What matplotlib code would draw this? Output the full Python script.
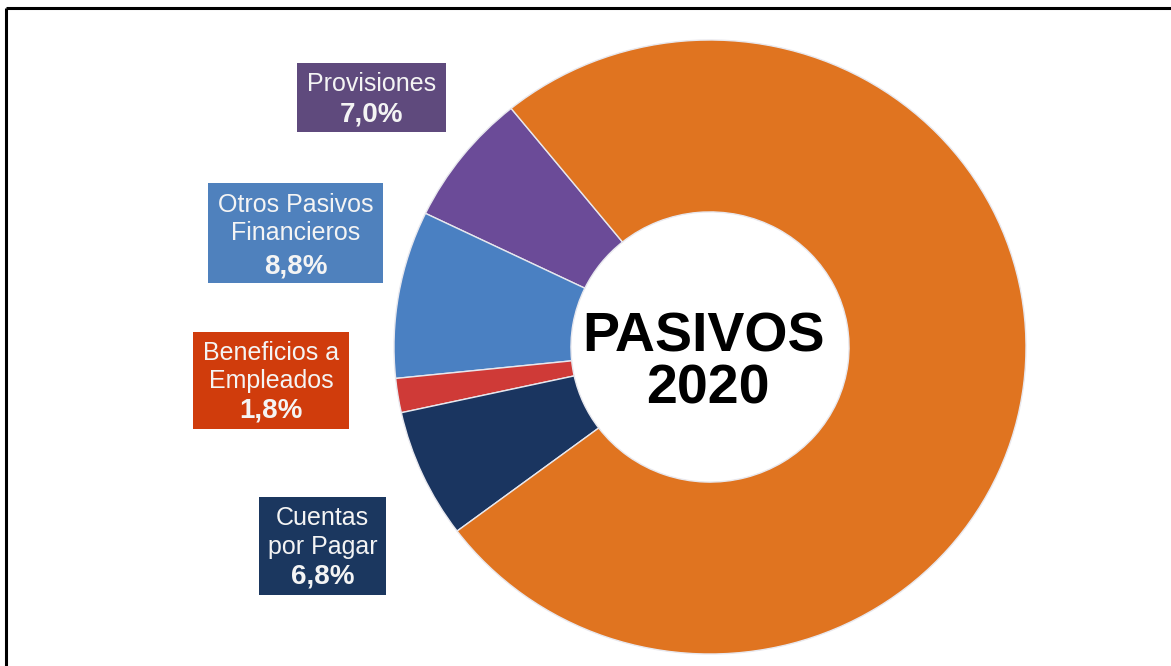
import matplotlib.pyplot as plt
from matplotlib.patches import Rectangle

plt.rcParams['font.family'] = ['Liberation Sans', 'DejaVu Sans']

# datos del gráfico
categorias = ['Provisiones', 'Otros Pasivos\nFinancieros', 'Beneficios a\nEmpleados',
              'Cuentas\npor Pagar', 'Fondos de Ley\nDestinación\nEspecífica']
valores = [7.0, 8.8, 1.8, 6.8, 75.6]
colores = ['#6B4B98', '#4A80C2', '#CF3A37', '#1A3560', '#E07420']
colores_caja = ['#5F4A7D', '#4F81BD', '#D03C0C', '#1B375F', None]
titulo = ['PASIVOS', '2020']

W, H = 1171, 666
fig = plt.figure(figsize=(W / 100, H / 100), dpi=100)

# capa en pixeles para cajas, textos y marco
ov = fig.add_axes([0, 0, 1, 1])
ov.set_xlim(0, W)
ov.set_ylim(H, 0)
ov.axis('off')

# dona
cx, cy, rx, ry = 710, 347, 316, 307
ax = fig.add_axes([(cx - rx) / W, (H - cy - ry) / H, 2 * rx / W, 2 * ry / H])
ax.pie(valores, colors=colores, startangle=129, counterclock=True, radius=1,
       wedgeprops=dict(width=0.56, edgecolor='#E8E8EE', linewidth=1.0))
ax.set_xlim(-1, 1)
ax.set_ylim(-1, 1)
ax.set_aspect('auto')
ax.axis('off')

# marco (solo lados superior e izquierdo visibles)
ov.plot([6, W + 5], [8, 8], color='black', linewidth=2.2, solid_capstyle='butt', clip_on=False)
ov.plot([6, 6], [8, H + 5], color='black', linewidth=2.2, solid_capstyle='butt', clip_on=False)

# cajas de etiquetas: (x0, y0, x1, y1, y de cada linea)
cajas = [
    (297, 63, 446, 132, [83, 113]),
    (208, 183, 383, 283, [204, 232, 265]),
    (193, 332, 349, 429, [352, 380, 409]),
    (259, 497, 386, 595, [517, 546, 576]),
]

def pct(v):
    return f'{v:.1f}%'.replace('.', ',')

for i, (x0, y0, x1, y1, ys) in enumerate(cajas):
    ov.add_patch(Rectangle((x0, y0), x1 - x0, y1 - y0, facecolor=colores_caja[i],
                           edgecolor='none'))
    xc = (x0 + x1) / 2
    lineas = categorias[i].split('\n')
    for j, t in enumerate(lineas):
        ov.text(xc, ys[j] + 1, t, ha='center', va='center', fontsize=18, color='#F4F4F4')
    ov.text(xc, ys[-1] + 1, pct(valores[i]), ha='center', va='center', fontsize=20,
            fontweight='bold', color='#F4F4F4')

# etiqueta de Fondos dentro de la dona
ys_f = [343, 369, 394, 423]
for j, t in enumerate(categorias[4].split('\n')):
    ov.text(937, ys_f[j], t, ha='center', va='center', fontsize=18, color='#FBEBDD')
ov.text(937, ys_f[-1], pct(valores[4]), ha='center', va='center', fontsize=20,
        fontweight='bold', color='#FBEBDD')

# texto central
ov.text(704, 352, titulo[0], ha='center', va='baseline', fontsize=40, fontweight='bold',
        color='black')
ov.text(708, 403, titulo[1], ha='center', va='baseline', fontsize=40, fontweight='bold',
        color='black')

fig.savefig('out.png', dpi=100, facecolor='white')
